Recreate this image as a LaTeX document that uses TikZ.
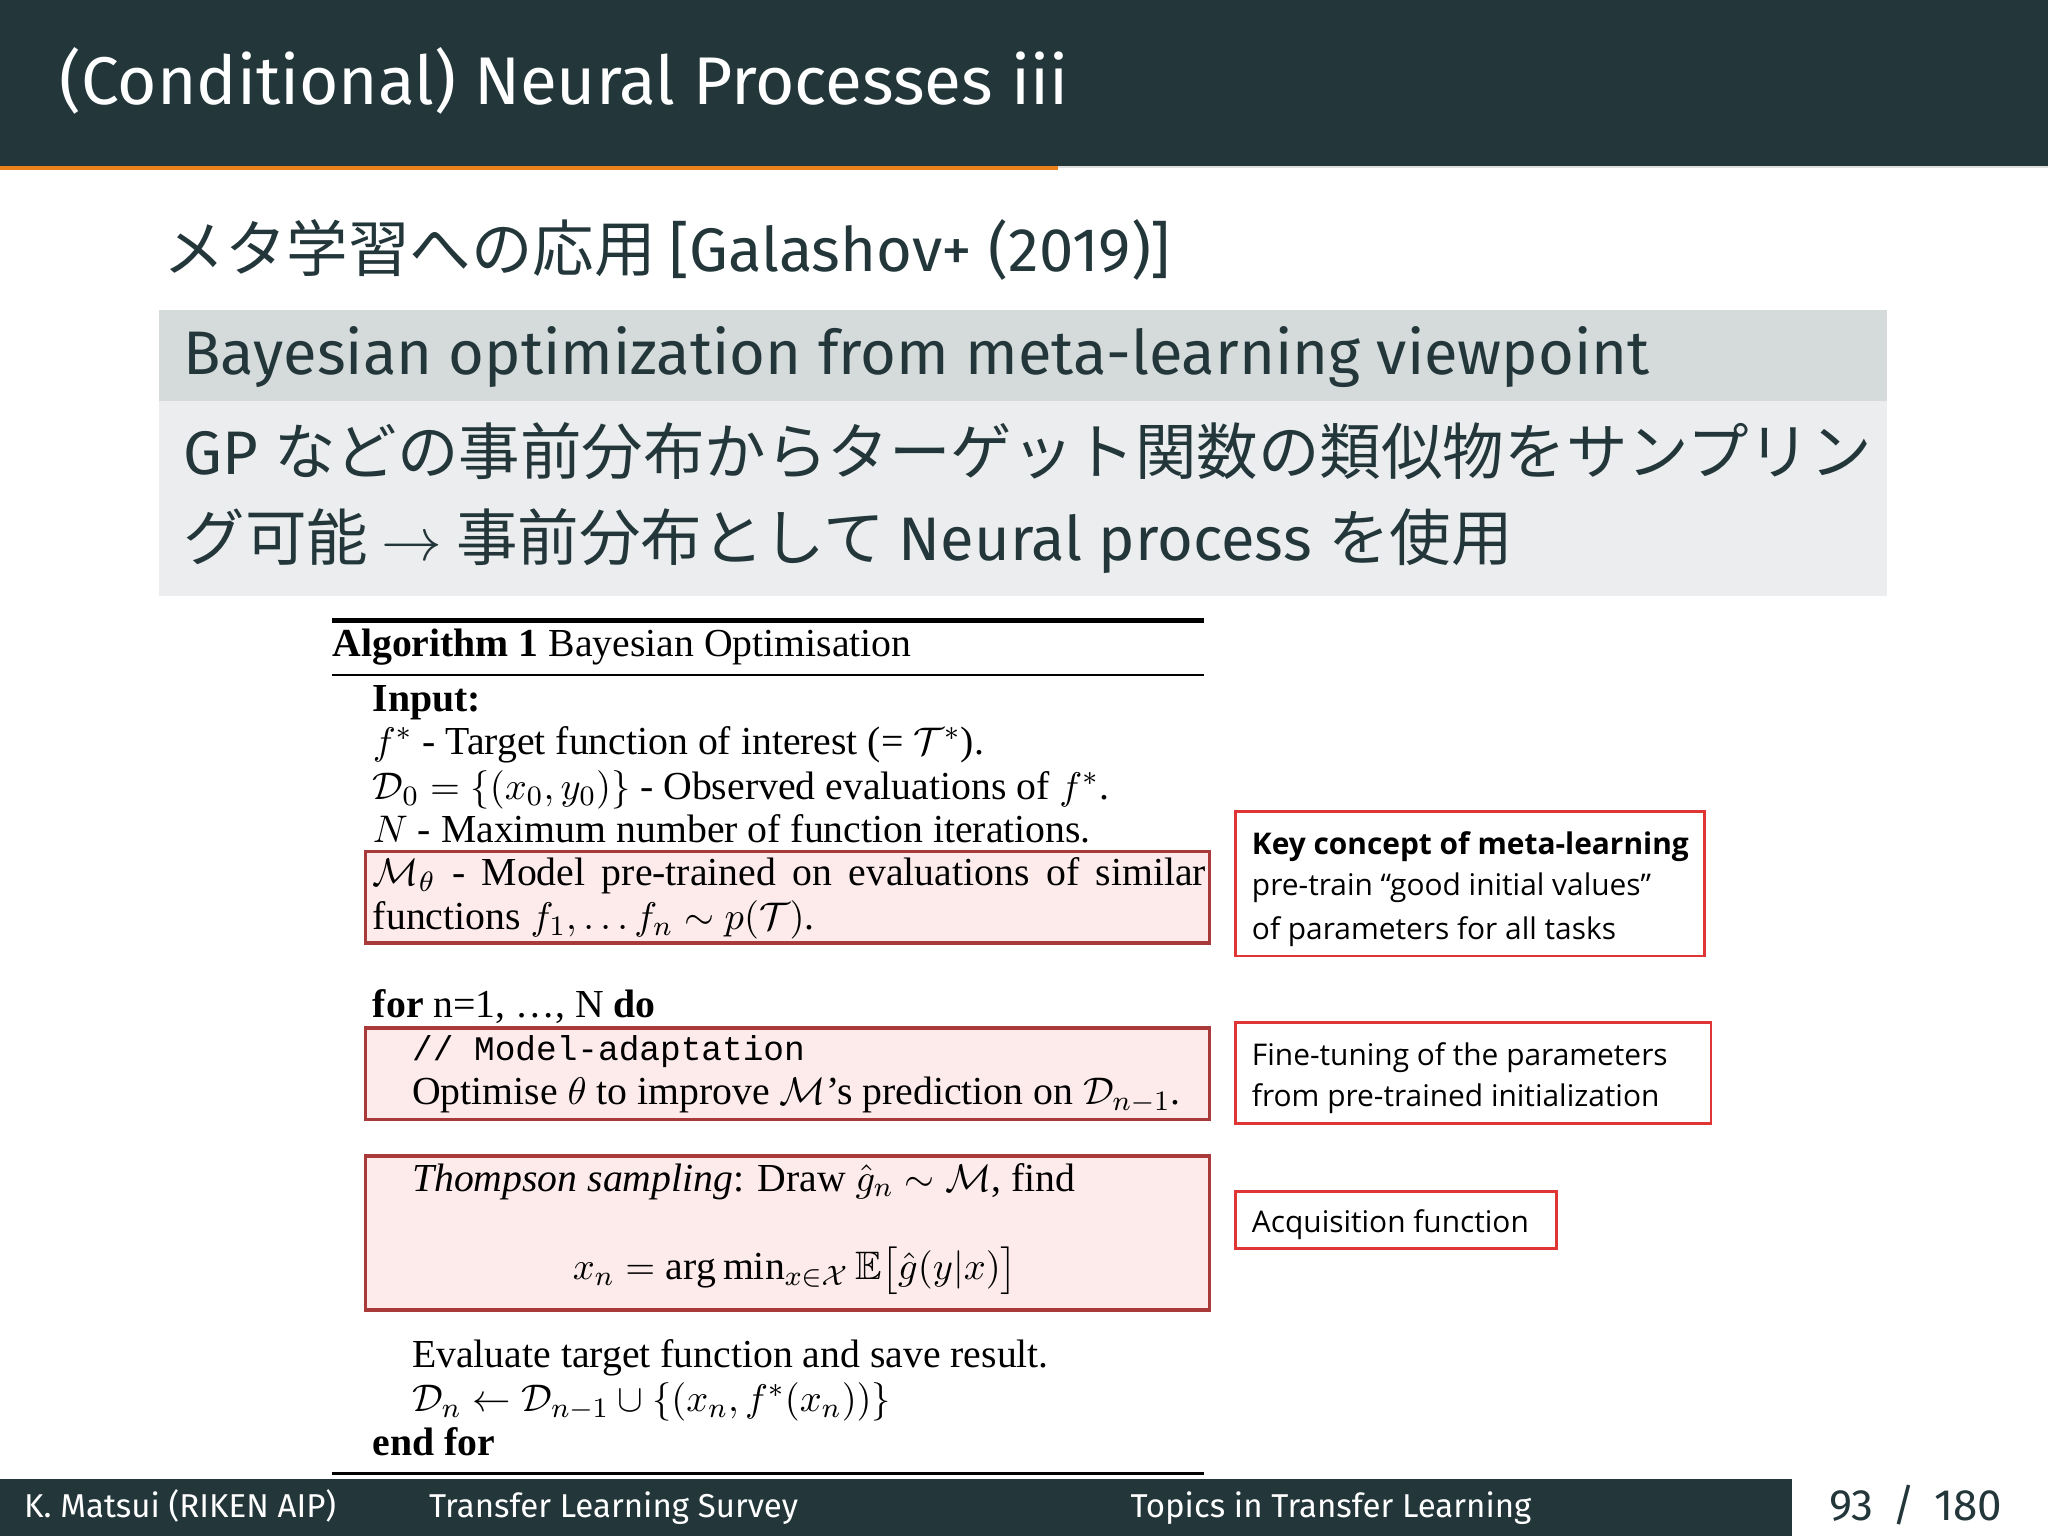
\documentclass[tikz,border=0pt]{standalone}
\usepackage{fontspec}
\usepackage{amsmath,amssymb}
\setmainfont{Liberation Serif}
\newfontfamily\fira{Fira Sans}
\newfontfamily\jp{Noto Sans CJK JP}
\newfontfamily\opens{Open Sans}
\setmonofont{Liberation Mono}
\definecolor{hdr}{HTML}{23373B}
\definecolor{org}{HTML}{EB811B}
\definecolor{blkh}{HTML}{D5DADB}
\definecolor{blkb}{HTML}{EBEDEE}
\definecolor{pinkf}{HTML}{FDEAEA}
\definecolor{pinkd}{HTML}{A83A3A}
\definecolor{redb}{HTML}{E03535}
\tikzset{
 lt/.style={anchor=base west,inner sep=0pt},
 alg/.style={lt,font=\fontsize{11.3pt}{13pt}\selectfont},
 hl/.style={fill=pinkf,draw=pinkd,line width=1pt},
 rb/.style={draw=redb,line width=0.8pt},
 rt/.style={lt,font=\opens\fontsize{8.5pt}{10pt}\selectfont},
 ft/.style={lt,text=white,font=\fira\fontsize{9.4pt}{11pt}\selectfont}
}
\begin{document}
\begin{tikzpicture}[x=0.013061cm,y=-0.013061cm]
\useasboundingbox (0,0) rectangle (1568,1176);
\fill[white] (0,0) rectangle (1568,1176);
\fill[hdr] (0,0) rectangle (1568,128);
\fill[org] (0,127) rectangle (810,130);
\fill[gray!25] (810,127) rectangle (1568,129);
\node[lt,text=white,font=\fira\fontsize{19.2pt}{22pt}\selectfont] (title) at (45,80) {(Conditional) Neural Processes iii};
\node[lt,text=hdr,font=\fontsize{17.5pt}{20pt}\selectfont] (sub) at (125,208) {\jp メタ学習への応用 \fira[Galashov+ (2019)]};
\fill[blkh] (122,237) rectangle (1445,307);
\fill[blkb] (122,307) rectangle (1445,456);
\node[lt,text=hdr,font=\fira\fontsize{17.5pt}{20pt}\selectfont] (bt) at (140,287) {Bayesian optimization from meta-learning viewpoint};
\node[lt,text=hdr,font=\fontsize{17.5pt}{20pt}\selectfont] (b1) at (140,363) {\fira GP \jp などの事前分布からターゲット関数の類似物をサンプリン};
\node[lt,text=hdr,font=\fontsize{17.5pt}{20pt}\selectfont] (b2) at (140,429) {\jp グ可能 $\rightarrow$ 事前分布として \fira Neural process \jp を使用};
% algorithm
\draw[line width=1.2pt] (254,475) -- (922,475);
\draw[line width=0.6pt] (254,517) -- (922,517);
\draw[line width=0.8pt] (254,1128) -- (922,1128);
\node[alg] (ah) at (254,503) {\textbf{Algorithm 1} Bayesian Optimisation};
\draw[hl] (280,652) rectangle (926,722);
\draw[hl] (280,787) rectangle (926,857);
\draw[hl] (280,885) rectangle (926,1003);
\node[alg] (in) at (285,545) {\textbf{Input:}};
\node[alg] (l1) at (285,578) {$f^*$ - Target function of interest (= $\mathcal{T}^*$).};
\node[alg] (l2) at (285,612) {$\mathcal{D}_0=\{(x_0,y_0)\}$ - Observed evaluations of $f^*$.};
\node[alg] (l3) at (285,645) {$N$ - Maximum number of function iterations.};
\node[alg] (l4) at (285,678) {\makebox[8.33cm][s]{$\mathcal{M}_\theta$ - Model pre-trained on evaluations of similar}};
\node[alg] (l5) at (285,712) {functions $f_1,\ldots f_n\sim p(\mathcal{T})$.};
\node[alg] (fo) at (285,779) {\textbf{for} n=1, \ldots, N \textbf{do}};
\node[lt,font=\ttfamily\fontsize{9.8pt}{12pt}\selectfont] (c1) at (315,812) {// Model-adaptation};
\node[alg] (c2) at (315,846) {Optimise $\theta$ to improve $\mathcal{M}$'s prediction on $\mathcal{D}_{n-1}$.};
\node[alg] (t1) at (315,912) {\textit{Thompson sampling}: Draw $\hat g_n\sim\mathcal{M}$, find};
\node[alg] (t2) at (438,980) {$x_n=\arg\min_{x\in\mathcal{X}}\mathbb{E}\big[\hat g(y|x)\big]$};
\node[alg] (e1) at (315,1047) {Evaluate target function and save result.};
\node[alg] (e2) at (315,1081) {$\mathcal{D}_n\leftarrow\mathcal{D}_{n-1}\cup\{(x_n,f^*(x_n))\}$};
\node[alg] (ef) at (285,1114) {\textbf{end for}};
% right boxes
\draw[rb] (946,621) rectangle (1305,732);
\draw[rb] (946,783) rectangle (1310,860);
\draw[rb] (946,912) rectangle (1192,956);
\node[rt] (k1) at (958,654) {\textbf{Key concept of meta-learning}};
\node[rt] (k2) at (958,686) {pre-train “good initial values”};
\node[rt] (k3) at (958,719) {of parameters for all tasks};
\node[rt] (f1) at (958,816) {Fine-tuning of the parameters};
\node[rt] (f2) at (958,847) {from pre-trained initialization};
\node[rt] (a1) at (958,944) {Acquisition function};
% footer
\fill[hdr] (0,1132) rectangle (1372,1176);
\node[ft] (fa) at (18,1162) {K. Matsui (RIKEN AIP)};
\node[ft] (fb) at (328,1162) {Transfer Learning Survey};
\node[ft] (fc) at (865,1162) {Topics in Transfer Learning};
\node[lt,text=hdr,font=\fira\fontsize{12.5pt}{15pt}\selectfont] (pg) at (1400,1164) {93 \,/\, 180};
\end{tikzpicture}
\end{document}
